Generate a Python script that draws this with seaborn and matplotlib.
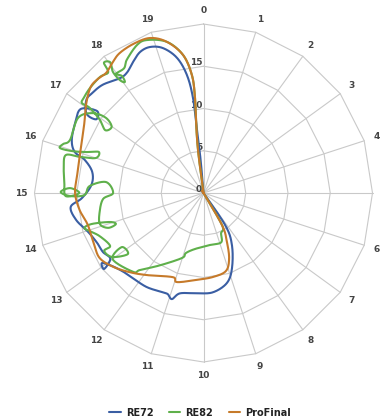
import numpy as np
import pandas as pd
import matplotlib
matplotlib.use("Agg")
import matplotlib.pyplot as plt
import seaborn as sns

# ---- data -------------------------------------------------------------
categories = [str(i) for i in range(20)]
ring_values = [5, 10, 15, 20]
radial_tick_values = [0, 5, 10, 15]
r_max = 20

series_names = ["RE72", "RE82", "ProFinal"]
series_colors = ["#3a5ea3", "#5fb04b", "#c67a2a"]

# bearing in degrees clockwise from category "0", value on the radial axis
re72_bearing = [0, 40, 80, 120, 146, 151.3, 159.2, 165.4, 174.5, 183.7, 193.2, 196.6,
                199.4, 202.2, 211, 219.7, 225.5, 231.4, 235.4, 232.6, 234.8, 239.6,
                244.8, 251.3, 258, 264, 267.6, 274.1, 280.7, 285.6, 287.7, 291.9,
                298.6, 304.4, 307.6, 304.5, 304.1, 308.4, 311.9, 317.1, 324, 327.7,
                331.7, 335.8, 339.9, 344.4, 348.9, 352, 353.7, 354.1, 355, 360]
re72_value = [0, 0, 0, 0, 4.6, 7.0, 9.5, 11.0, 11.8, 11.9, 12.2, 13.1,
              12.7, 12.7, 13.0, 13.1, 13.3, 13.85, 14.6, 14.8, 13.5, 13.8,
              13.9, 14.4, 15.4, 15.8, 14.4, 13.3, 13.4, 14.6, 16.0, 16.8,
              17.3, 17.6, 15.9, 15.4, 16.7, 17.7, 17.7, 17.5, 16.8, 16.9,
              17.6, 18.3, 18.4, 17.8, 16.3, 14.1, 11.3, 7.5, 4.0, 0]

re82_bearing = [0, 40, 80, 120, 150, 156.4, 160.3, 172.9, 188.6, 196.3, 198.3, 211.1,
                219.5, 221.7, 233.9, 236.5, 231.1, 235, 239.8, 240.5, 247.4,
                251.5, 253.7, 254.5, 252.8, 250.5, 249.9, 253.3, 259.6,
                266.6, 270, 276.4, 273.5, 269, 268.7, 270.4, 272.1, 270, 268.7, 273.7, 280.2,
                285.4, 286.3, 288, 291.4, 289.5, 287.7, 287.4, 289.2, 291.7,
                300.9, 305.7, 307.6, 305.8, 302.6, 305.2, 306.8, 306.5, 308.5, 312.8,
                318.3, 321.7, 322.6, 324.5, 323.2, 323.5, 324.7, 325.1, 323.7, 327.5, 330.1,
                335.8, 339.7, 346.4, 351.6, 354.4, 354.9, 354.1, 352.7, 360]
re82_value = [0, 0, 0, 0, 4.4, 5.2, 6.2, 6.2, 6.7, 7.4, 8.1, 10.0,
              11.8, 12.5, 13.3, 11.6, 11.5, 13.2, 13.6, 12.7, 13.3,
              14.2, 14.7, 13.7, 11.6, 11.0, 12.0, 12.8, 12.5,
              11.9, 10.7, 11.6, 13.5, 14.1, 15.8, 16.9, 15.8, 14.7, 16.3, 16.5, 16.8,
              16.9, 15.2, 13.4, 13.3, 14.5, 16.3, 17.8, 17.6, 17.0,
              17.3, 16.2, 14.6, 13.4, 13.8, 15.0, 16.8, 17.9, 18.1, 18.3,
              18.4, 18.2, 19.4, 19.0, 17.9, 16.6, 16.1, 16.9, 17.5, 17.5, 18.2,
              19.2, 19.3, 18.4, 16.5, 14.0, 11.4, 8.7, 5.1, 0]

profinal_bearing = [0, 40, 80, 120, 150, 154.4, 158.6, 163.9, 173.5, 184.3, 196.6, 200,
                    214.6, 222.9, 230.7, 237.9, 245, 254.5, 262.2, 270, 278, 289, 300,
                    307, 313, 317, 321, 325, 329, 335, 341, 346.4, 351.6, 354.4, 354.9,
                    354.1, 352.7, 360]
profinal_value = [0, 0, 0, 0, 4.4, 6.4, 8.3, 9.6, 10.0, 10.3, 11.0, 10.6,
                  11.8, 12.8, 13.8, 14.5, 14.3, 14.2, 14.8, 15.2, 15.1, 15.4, 16.3,
                  17.4, 18.3, 18.4, 18.3, 18.8, 19.3, 19.5, 19.4, 18.4, 16.5, 14.0, 11.4,
                  8.7, 5.1, 0]

series_bearing = [re72_bearing, re82_bearing, profinal_bearing]
series_value = [re72_value, re82_value, profinal_value]

# ---- layout constants (pixels) ------------------------------------------
W, H, DPI = 381, 420, 100
CX, CY = 203.5, 193.0          # chart centre
PX_PER_UNIT = 8.45             # pixels per radial unit

sns.set_style("white")
plt.rcParams["font.family"] = ["DejaVu Sans"]

fig = plt.figure(figsize=(W / DPI, H / DPI), dpi=DPI)
ax = fig.add_axes([0, 0, 1, 1])
ax.set_xlim(-CX / PX_PER_UNIT, (W - CX) / PX_PER_UNIT)
ax.set_ylim(-(H - CY) / PX_PER_UNIT, CY / PX_PER_UNIT)
ax.axis("off")


def to_xy(bearing_deg, value):
    b = np.radians(np.asarray(bearing_deg, dtype=float))
    v = np.asarray(value, dtype=float)
    return v * np.sin(b), v * np.cos(b)


def smooth_path(x, y, steps=24):
    """Catmull-Rom spline through the points (smoothed radar line)."""
    P = np.column_stack([x, y])
    P = np.vstack([P[0], P, P[-1]])
    t = np.linspace(0, 1, steps, endpoint=False)[:, None]
    out = []
    for i in range(1, len(P) - 2):
        p0, p1, p2, p3 = P[i - 1], P[i], P[i + 1], P[i + 2]
        seg = 0.5 * ((2 * p1) + (-p0 + p2) * t
                     + (2 * p0 - 5 * p1 + 4 * p2 - p3) * t ** 2
                     + (-p0 + 3 * p1 - 3 * p2 + p3) * t ** 3)
        out.append(seg)
    out.append(P[-2][None, :])
    return np.vstack(out)


# ---- polygon grid ----------------------------------------------------------
n = len(categories)
spoke_bearings = np.arange(n) * 360.0 / n
grid_color = "#c9c9c9"
for b in spoke_bearings:
    sx, sy = to_xy([b, b], [0, r_max])
    ax.plot(sx, sy, color=grid_color, lw=0.8, zorder=1)
for rv in ring_values:
    rx, ry = to_xy(np.append(spoke_bearings, 0), [rv] * (n + 1))
    ax.plot(rx, ry, color=grid_color, lw=0.8, zorder=1)

# category labels (a label whose centre falls past the canvas edge is not drawn)
x_right_limit = (W - CX) / PX_PER_UNIT
for b, lab in zip(spoke_bearings, categories):
    lx, ly = to_xy(b, r_max + 1.6)
    if lx > x_right_limit - 0.3:
        continue
    ax.text(lx, ly, lab, ha="center", va="center", fontsize=6.5,
            fontweight="bold", color="#444444")

# radial axis labels
for v in radial_tick_values:
    ax.text(-0.15, v + 0.4, str(v), ha="right", va="center", fontsize=6.5,
            fontweight="bold", color="#444444")

# ---- series -----------------------------------------------------------------
frames = []
for name, bear, val in zip(series_names, series_bearing, series_value):
    x, y = to_xy(bear, val)
    pts = smooth_path(x, y)
    frames.append(pd.DataFrame({"x": pts[:, 0], "y": pts[:, 1], "series": name}))
df = pd.concat(frames, ignore_index=True)

sns.lineplot(data=df, x="x", y="y", hue="series", hue_order=series_names,
             palette=series_colors, sort=False, estimator=None, units="series",
             linewidth=1.5, ax=ax, zorder=3)

handles, labels = ax.get_legend_handles_labels()
ax.legend(handles, labels, loc="center", bbox_to_anchor=(0.525, 0.017),
          bbox_transform=fig.transFigure, ncol=3, frameon=False,
          handlelength=1.2, handletextpad=0.5, columnspacing=1.6,
          prop={"weight": "bold", "size": 7}, labelcolor="#222222")

fig.savefig("out.png", dpi=DPI)
